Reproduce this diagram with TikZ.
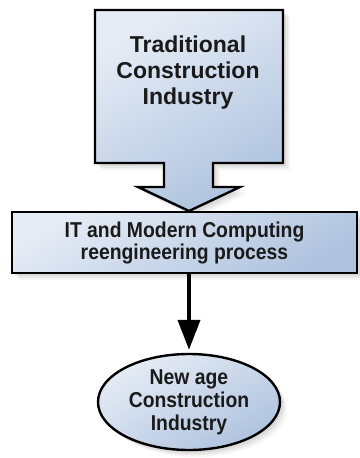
\documentclass[tikz,border=0pt]{standalone}
\usepackage{fontspec}
\setmainfont{Liberation Sans}
\newfontfamily\narrowfont[FakeStretch=0.9]{Liberation Sans}
\usetikzlibrary{shapes.geometric,shadows,arrows.meta}
\definecolor{fillA}{HTML}{E6ECF5}
\definecolor{fillB}{HTML}{AFC3DF}
\definecolor{txt}{HTML}{1A1A1A}
\tikzset{
  shapefill/.style={top color=fillA, bottom color=fillB, shading angle=30},
  soft shadow/.style={
    drop shadow={shadow xshift=3pt, shadow yshift=-3pt, fill=black!30, opacity=0.25},
    drop shadow={shadow xshift=5pt, shadow yshift=-5pt, fill=black!30, opacity=0.2},
    drop shadow={shadow xshift=7pt, shadow yshift=-7pt, fill=black!30, opacity=0.12}},
  outline/.style={draw=black, line width=2.4pt, line join=miter},
  boxtext/.style={text=txt, align=center, font=\bfseries},
}
\begin{document}
\begin{tikzpicture}[x=1pt,y=-1pt]
\useasboundingbox (0,0) rectangle (359,458);
% block arrow
\path[outline, shapefill, soft shadow]
  (95,10) -- (283,10) -- (283,163) -- (213,163) -- (213,187) -- (240,187)
  -- (189,211) -- (138,187) -- (164,187) -- (164,163) -- (95,163) -- cycle;
\node[boxtext, font=\bfseries\fontsize{23}{26}\selectfont] (trad) at (188,73)
  {Traditional\\Construction\\Industry};
% middle box
\node[outline, shapefill, soft shadow, boxtext, minimum width=345pt, minimum height=61pt,
  inner sep=0pt, font=\narrowfont\bfseries\fontsize{21.5}{22}\selectfont] (mid) at (184.5,242.5)
  {IT and Modern Computing\\reengineering process};
% ellipse
\node[ellipse, outline, shapefill, soft shadow, boxtext, minimum width=182pt, minimum height=96pt,
  inner sep=0pt, font=\narrowfont\bfseries\fontsize{21.5}{23}\selectfont] (new) at (189,402)
  {New age\\Construction\\Industry};
% connector
\draw[line width=4pt, -{Triangle[length=30pt,width=22pt]}, shorten >=3pt]
  (mid.south -| new.north) -- (new.north);
\end{tikzpicture}
\end{document}
